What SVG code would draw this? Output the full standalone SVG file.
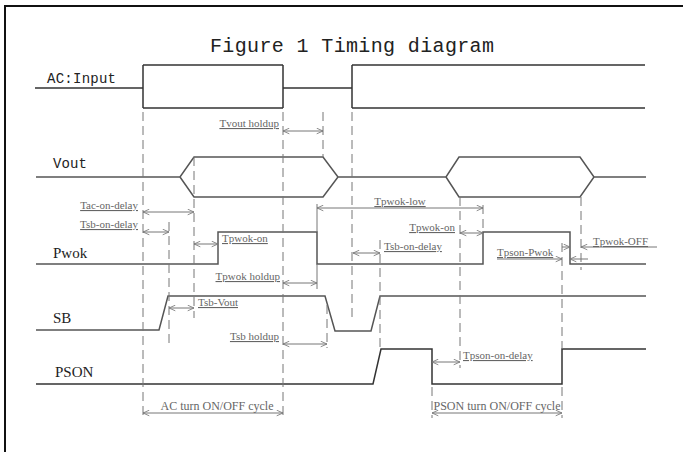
<svg xmlns="http://www.w3.org/2000/svg" width="683" height="452" viewBox="0 0 683 452">
<defs>
<style>
.sig{fill:none;stroke:#555;stroke-width:1.5}
.ac{fill:none;stroke:#333;stroke-width:1.5}
.dash{fill:none;stroke:#777;stroke-width:1;stroke-dasharray:9,5}
.tick{fill:none;stroke:#777;stroke-width:1}
.dim{fill:none;stroke:#777;stroke-width:1;marker-end:url(#ah)}
.dim2{fill:none;stroke:#777;stroke-width:1;marker-start:url(#ah);marker-end:url(#ah)}
.lbl{font-family:"Liberation Serif",serif;font-size:11px;fill:#666;text-decoration:underline}
.big{font-family:"Liberation Serif",serif;font-size:12px;fill:#666}
.mono{font-family:"Liberation Mono",monospace;fill:#222}
.name{font-family:"Liberation Serif",serif;font-size:15px;fill:#222}
</style>
<marker id="ah" viewBox="0 0 10 10" refX="10" refY="5" markerWidth="7" markerHeight="7" orient="auto-start-reverse" markerUnits="userSpaceOnUse">
<path d="M1,1 L10,5 L1,9" fill="none" stroke="#777" stroke-width="1.2"/>
</marker>
</defs>
<rect x="0" y="0" width="683" height="452" fill="#fff"/>
<rect x="5" y="6" width="720" height="480" fill="none" stroke="#111" stroke-width="2"/>
<text x="210" y="52" class="mono" font-size="20" textLength="284">Figure 1 Timing diagram</text>

<g id="ac-input">
<text x="47" y="83" class="mono" font-size="14" textLength="69">AC:Input</text>
<path class="ac" d="M35,88 H143 M143,65 V108 M143,65 H283 M143,108 H283 M283,65 V108 M283,88 H352 M352,65 V108 M352,65 H645 M352,108 H645"/>
</g>

<g id="vout">
<text x="53" y="168" class="mono" font-size="14" textLength="34">Vout</text>
<path class="sig" d="M36,177 H180 L194,157 H323 L338,177 L323,197 H194 L180,177 M338,177 H446 L459,157 H580 L594,177 L580,197 H459 L446,177 M594,177 H646"/>
</g>

<g id="pwok">
<text x="53" y="258" class="name">Pwok</text>
<path class="sig" d="M36,264 H218 V232 H317 V264 H483 V232 H570 V264 H646"/>
</g>

<g id="sb">
<text x="53" y="323" class="name">SB</text>
<path class="sig" d="M36,330 H159 L168,296 H325 L335,331 H371 L380,296 H646"/>
</g>

<g id="pson">
<text x="55" y="377" class="name" font-size="14.5">PSON</text>
<path class="ac" d="M36,384 H373 L381,349 H432 V384 H562 V349 H646"/>
</g>

<g id="connectors">
<path class="dash" d="M143,112 V418 M169,222 V345 M194,157 V318 M283,112 V418 M323,112 V157 M327,305 V348 M352,112 V318 M380,240 V350 M432,387 V418 M460,197 V368 M483,205 V232 M562,243 V349 M562,387 V418 M581,197 V270"/>
<path class="tick" d="M317,204 V232 M317,264 V289"/>

<path class="dim2" d="M283,131 H323"/>
<path class="dim2" d="M143,212 H194"/>
<path class="dim2" d="M143,232 H169"/>
<path class="dim2" d="M194,244 H218"/>
<path class="dim2" d="M283,283 H317"/>
<path class="dim2" d="M169,308 H194"/>
<path class="dim2" d="M283,344 H327"/>
<path class="dim2" d="M317,208 H483"/>
<path class="dim2" d="M460,233 H483"/>
<path class="dim2" d="M353,253 H380"/>
<path class="dim" d="M497,259 H562"/>
<path class="dim" d="M588,259 H570"/>
<path class="dim" d="M562,247 H570"/>
<path class="dim" d="M657,247 H581"/>
<path class="dim2" d="M432,362 H460"/>
<path class="dim2" d="M143,413 H283"/>
<path class="dim2" d="M432,413 H562"/>
</g>

<g id="labels">
<text x="279" y="127" class="lbl" text-anchor="end">Tvout holdup</text>
<text x="138" y="209" class="lbl" text-anchor="end">Tac-on-delay</text>
<text x="138" y="228" class="lbl" text-anchor="end">Tsb-on-delay</text>
<text x="222" y="242" class="lbl">Tpwok-on</text>
<text x="280" y="280" class="lbl" text-anchor="end">Tpwok holdup</text>
<text x="198" y="306" class="lbl">Tsb-Vout</text>
<text x="279" y="340" class="lbl" text-anchor="end">Tsb holdup</text>
<text x="400" y="205" class="lbl" text-anchor="middle">Tpwok-low</text>
<text x="455" y="231" class="lbl" text-anchor="end">Tpwok-on</text>
<text x="384" y="250" class="lbl">Tsb-on-delay</text>
<text x="497" y="256" class="lbl">Tpson-Pwok</text>
<text x="593" y="245" class="lbl">Tpwok-OFF</text>
<text x="463" y="359" class="lbl">Tpson-on-delay</text>
<text x="217" y="410" class="big" text-anchor="middle">AC turn ON/OFF cycle</text>
<text x="497" y="410" class="big" text-anchor="middle">PSON turn ON/OFF cycle</text>
</g>
</svg>
